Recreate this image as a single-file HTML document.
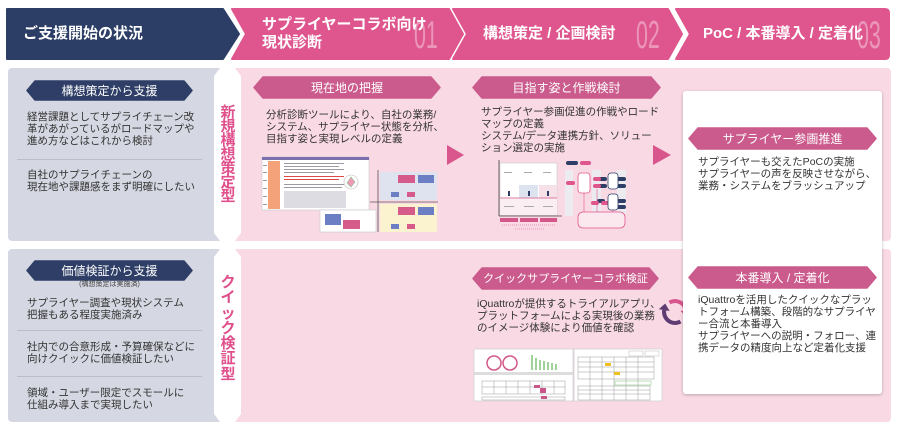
<!DOCTYPE html>
<html><head><meta charset="utf-8">
<style>
html,body{margin:0;padding:0;}
body{width:900px;height:428px;position:relative;overflow:hidden;background:#fff;font-family:"Liberation Sans","Noto Sans CJK JP",sans-serif;}
svg{position:absolute;left:0;top:0;}
.t{position:absolute;font-family:"Liberation Sans","Noto Sans CJK JP",sans-serif;font-size:10.5px;line-height:12.2px;color:#333;white-space:nowrap;}
.h{position:absolute;font-family:"Liberation Sans","Noto Sans CJK JP",sans-serif;font-size:15px;font-weight:bold;color:#fff;white-space:nowrap;line-height:18px;}
.p{position:absolute;font-family:"Liberation Sans","Noto Sans CJK JP",sans-serif;font-size:12px;color:#fff;white-space:nowrap;text-align:center;line-height:20px;}
.v{position:absolute;font-family:"Liberation Sans","Noto Sans CJK JP",sans-serif;font-size:15px;font-weight:bold;color:#e0508c;text-align:center;width:26px;}
.card{position:absolute;left:683px;top:91px;width:199px;height:303px;background:#fff;border-radius:3px;box-shadow:0 1px 3px rgba(0,0,0,0.25);}
</style></head><body>
<svg width="900" height="428" viewBox="0 0 900 428">
 <!-- header -->
 <g stroke-linejoin="round" stroke-width="2">
  <polygon points="7,9 223,9 239,34 223,59 7,59" fill="#2c3d66" stroke="#2c3d66"/>
  <polygon points="232,9 449,9 463,34 449,59 232,59 246,34" fill="#df568e" stroke="#df568e"/>
  <polygon points="453,9 668,9 682,34 668,59 453,59 467,34" fill="#df568e" stroke="#df568e"/>
  <path d="M676,9 L885,9 Q889,9 889,13 L889,55 Q889,59 885,59 L676,59 L690,34 Z" fill="#df568e" stroke="#df568e"/>
 </g>
 <g font-family="Liberation Sans, sans-serif" font-size="39" fill="#ffffff" fill-opacity="0.38">
  <text transform="translate(414,48) scale(0.55,1)">01</text>
  <text transform="translate(636,48) scale(0.55,1)">02</text>
  <text transform="translate(857,48) scale(0.55,1)">03</text>
 </g>
 <!-- rows -->
 <rect x="8" y="68" width="218" height="173" rx="4" fill="#d5d8e2"/>
 <rect x="8" y="249" width="218" height="173" rx="4" fill="#d5d8e2"/>
 <rect x="229" y="68" width="662" height="173" rx="4" fill="#f9d9e4"/>
 <rect x="229" y="249" width="662" height="173" rx="4" fill="#f9d9e4"/>
 <polygon points="220,68 235,68 241,76 241,233 235,241 220,241 214,233 214,76" fill="#fff"/>
 <polygon points="220,249 235,249 241,257 241,414 235,422 220,422 214,414 214,257" fill="#fff"/>
 <!-- dividers -->
 <rect x="17" y="159" width="185" height="1" fill="#b9bdc9"/>
 <rect x="17" y="330" width="185" height="1" fill="#b9bdc9"/>
 <rect x="17" y="376" width="185" height="1" fill="#b9bdc9"/>
 <!-- navy pills -->
 <polygon points="35,81 184,81 192,90.5 184,100 35,100 27,90.5" fill="#2e3e66" stroke="#2e3e66" stroke-linejoin="round" stroke-width="1.5"/>
 <polygon points="35,261 184,261 192,270.5 184,280 35,280 27,270.5" fill="#2e3e66" stroke="#2e3e66" stroke-linejoin="round" stroke-width="1.5"/>
 <!-- pink pills -->
 <g fill="#cb5b8c" stroke="#cb5b8c" stroke-linejoin="round" stroke-width="1.5">
  <polygon points="263,77 431,77 440,87.5 431,98 263,98 254,87.5"/>
  <polygon points="482,77 651,77 660,87.5 651,98 482,98 473,87.5"/>
  <polygon points="482,268 649,268 658,278.5 649,289 482,289 473,278.5"/>
 </g>
 <!-- arrows -->
 <polygon points="447,145 464,155 447,165" fill="#d9568c"/>
 <polygon points="653,145 671,155 653,165" fill="#d9568c"/>

 <!-- Thumb A -->
 <rect x="262" y="157" width="107" height="53" fill="#fff" stroke="#c8c8d0" stroke-width="0.6"/>
 <rect x="262" y="157" width="107" height="3" fill="#7b6fae"/>
 <rect x="268" y="161" width="12" height="48" fill="#f4a27a"/>
 <g fill="#9a9aa5">
  <rect x="284" y="163" width="60" height="1"/><rect x="284" y="166" width="55" height="1"/>
  <rect x="284" y="169" width="60" height="1"/><rect x="284" y="172" width="50" height="1"/>
  <rect x="284" y="184" width="60" height="1"/><rect x="284" y="187" width="58" height="1"/>
  <rect x="263" y="165" width="4" height="1"/><rect x="263" y="172" width="4" height="1"/><rect x="263" y="180" width="4" height="1"/><rect x="263" y="188" width="4" height="1"/><rect x="263" y="196" width="4" height="1"/><rect x="263" y="204" width="4" height="1"/>
 </g>
 <g fill="#e04848"><rect x="284" y="176" width="60" height="1"/><rect x="284" y="179" width="55" height="1"/></g>
 <rect x="284" y="191" width="62" height="17" fill="#dcdce2"/>
 <circle cx="351" cy="182" r="7" fill="none" stroke="#bbb" stroke-width="0.6"/>
 <polygon points="351,177 355,182 351,187 347,183" fill="#f19ab8" stroke="#7cc48a" stroke-width="0.6"/>
 <!-- Thumb B -->
 <rect x="380" y="172" width="57" height="28" fill="#dfe3f0"/>
 <rect x="398" y="175" width="17" height="8" fill="#d65b8b"/>
 <rect x="418" y="175" width="16" height="8" fill="#6d7fc4"/>
 <rect x="391" y="192" width="8" height="5" fill="#6d7fc4"/>
 <rect x="407" y="192" width="8" height="5" fill="#d65b8b"/>
 <rect x="380" y="204" width="57" height="28" fill="#fbf3d0"/>
 <rect x="398" y="207" width="17" height="8" fill="#d65b8b"/>
 <rect x="418" y="207" width="16" height="8" fill="#6d7fc4"/>
 <rect x="391" y="224" width="8" height="5" fill="#6d7fc4"/>
 <rect x="407" y="224" width="8" height="5" fill="#d65b8b"/>
 <rect x="320" y="210" width="56" height="22" fill="#fff" stroke="#c8c8d0" stroke-width="0.6"/>
 <rect x="325" y="214" width="16" height="11" fill="#6d7fc4"/>
 <rect x="343" y="220" width="17" height="9" fill="#d65b8b"/>
 <g stroke="#555" stroke-width="0.8"><line x1="378" y1="170" x2="378" y2="232"/><line x1="370" y1="202" x2="438" y2="202"/></g>
 <!-- Thumb C -->
 <rect x="500" y="163" width="57" height="52" fill="#fff" stroke="#c8c8d0" stroke-width="0.6"/>
 <rect x="519" y="185" width="19" height="13" fill="#dde4f0"/>
 <rect x="539" y="185" width="18" height="13" fill="#f6e1e8"/>
 <rect x="500" y="198" width="57" height="17" fill="#fbeef2"/>
 <line x1="500" y1="198" x2="557" y2="198" stroke="#d4578a" stroke-width="0.8"/>
 <g fill="#2e3e66"><rect x="508" y="191" width="2" height="5"/><rect x="528" y="191" width="2" height="5"/><rect x="547" y="191" width="2" height="5"/></g>
 <g fill="#aaa"><rect x="504" y="172" width="8" height="1"/><rect x="524" y="172" width="8" height="1"/><rect x="543" y="172" width="8" height="1"/><rect x="504" y="206" width="10" height="1"/><rect x="524" y="206" width="10" height="1"/><rect x="543" y="206" width="10" height="1"/></g>
 <line x1="499" y1="160" x2="499" y2="216" stroke="#444" stroke-width="0.8"/>
 <line x1="499" y1="216" x2="562" y2="216" stroke="#444" stroke-width="0.8"/>
 <g fill="#d4578a"><rect x="500" y="218" width="18" height="4"/><rect x="520" y="218" width="18" height="4"/><rect x="540" y="218" width="17" height="4"/></g>
 <g stroke="#d4578a" stroke-width="0.6" stroke-dasharray="1,1"><line x1="502" y1="225" x2="555" y2="225"/><line x1="515" y1="229" x2="545" y2="229"/></g>
 <!-- Thumb D -->
 <g fill="#ebebf0"><rect x="565" y="170" width="8" height="46"/><rect x="592" y="170" width="9" height="44"/><rect x="617" y="170" width="9" height="44"/></g>
 <g fill="#2e3e66"><rect x="566" y="161" width="12" height="4" rx="2"/><rect x="597" y="177" width="10" height="4" rx="2"/><rect x="597" y="184" width="10" height="4" rx="2"/><rect x="617" y="177" width="9" height="4" rx="2"/><rect x="617" y="184" width="9" height="4" rx="2"/><rect x="617" y="199" width="9" height="4" rx="2"/><rect x="617" y="205" width="9" height="4" rx="2"/><rect x="597" y="199" width="8" height="4" rx="2"/></g>
 <g fill="#e0558c"><rect x="580" y="161" width="11" height="4" rx="2"/><rect x="566" y="181" width="9" height="4" rx="2"/><rect x="593" y="177" width="8" height="4" rx="2"/><rect x="593" y="184" width="8" height="4" rx="2"/><rect x="591" y="201" width="8" height="4" rx="2"/><rect x="601" y="201" width="8" height="4" rx="2"/></g>
 <rect x="578" y="173" width="12" height="20" rx="3" fill="#fff" stroke="#e0558c" stroke-width="0.8"/>
 <rect x="608" y="173" width="10" height="16" rx="3" fill="#fff" stroke="#2e3e66" stroke-width="0.8"/>
 <rect x="608" y="194" width="10" height="16" rx="3" fill="#fff" stroke="#2e3e66" stroke-width="0.8"/>
 <rect x="578" y="212" width="47" height="16" rx="5" fill="#fbe8ef" stroke="#e0558c" stroke-width="0.8"/>
 <g stroke="#e0558c" stroke-width="0.6"><line x1="584" y1="193" x2="584" y2="212"/><line x1="597" y1="189" x2="597" y2="212"/><line x1="613" y1="210" x2="613" y2="212"/></g>
 <!-- Thumb E -->
 <rect x="474" y="349" width="99" height="52" fill="#fff" stroke="#c8c8d0" stroke-width="0.6"/>
 <circle cx="494" cy="363" r="7" fill="none" stroke="#d4578a" stroke-width="1.5"/>
 <circle cx="510" cy="363" r="7" fill="none" stroke="#d4578a" stroke-width="1.5"/>
 <g fill="#9fd39a"><rect x="531" y="355" width="2" height="15"/><rect x="535" y="358" width="2" height="12"/><rect x="539" y="360" width="2" height="10"/><rect x="543" y="361" width="2" height="9"/><rect x="547" y="362" width="2" height="8"/><rect x="551" y="363" width="2" height="7"/><rect x="555" y="364" width="2" height="6"/></g>
 <rect x="474" y="372" width="99" height="3" fill="#ddd"/>
 <g fill="none" stroke="#999" stroke-width="0.5">
  <rect x="482" y="381" width="83" height="13"/><line x1="482" y1="387" x2="565" y2="387"/>
  <rect x="482" y="397" width="83" height="3"/>
  <line x1="494" y1="381" x2="494" y2="394"/><line x1="506" y1="381" x2="506" y2="394"/><line x1="518" y1="381" x2="518" y2="394"/><line x1="530" y1="381" x2="530" y2="394"/><line x1="542" y1="381" x2="542" y2="394"/><line x1="554" y1="381" x2="554" y2="394"/>
 </g>
 <rect x="534" y="385" width="6" height="3" fill="#c9578a"/><rect x="540" y="388" width="6" height="5" fill="#c9578a"/><rect x="541" y="396" width="6" height="3" fill="#c9578a"/>
 <!-- Thumb F -->
 <rect x="574" y="349" width="88" height="52" fill="#fff" stroke="#c8c8d0" stroke-width="0.6"/>
 <rect x="629" y="351" width="14" height="5" fill="none" stroke="#bbb" stroke-width="0.5"/>
 <rect x="645" y="351" width="14" height="5" fill="none" stroke="#bbb" stroke-width="0.5"/>
 <g fill="none" stroke="#999" stroke-width="0.5">
  <rect x="578" y="357" width="76" height="22"/><line x1="578" y1="362" x2="654" y2="362"/><line x1="578" y1="367" x2="654" y2="367"/><line x1="578" y1="372" x2="654" y2="372"/>
  <rect x="578" y="386" width="72" height="14"/><line x1="578" y1="390" x2="650" y2="390"/><line x1="578" y1="394" x2="650" y2="394"/>
  <line x1="590" y1="357" x2="590" y2="400"/><line x1="602" y1="357" x2="602" y2="400"/><line x1="614" y1="357" x2="614" y2="400"/><line x1="626" y1="357" x2="626" y2="400"/><line x1="638" y1="357" x2="638" y2="400"/>
 </g>
 <rect x="605" y="363" width="6" height="3" fill="#f0c020"/><rect x="614" y="372" width="6" height="3" fill="#f0c020"/>
 <rect x="615" y="381" width="36" height="4" fill="none" stroke="#9fd39a" stroke-width="0.7"/>
 <!-- cycle icon -->
 <path d="M669.5,302.5 A11,11 0 0 1 685.8,310.1" fill="none" stroke="#d9568c" stroke-width="4"/>
 <polygon points="686.8,317 691.5,309 680.5,311" fill="#d9568c"/>
 <path d="M680.5,321.5 A11,11 0 0 1 664.2,310.1" fill="none" stroke="#5e3d73" stroke-width="4"/>
 <polygon points="665.2,303.5 658.8,309.3 669.6,311" fill="#5e3d73"/>
</svg>

<!-- header text -->
<div class="h" style="left:23px;top:25px;">ご支援開始の状況</div>
<div class="h" style="left:262px;top:16px;">サプライヤーコラボ向け<br>現状診断</div>
<div class="h" style="left:483px;top:25px;">構想策定 / 企画検討</div>
<div class="h" style="left:703px;top:25px;">PoC / 本番導入 / 定着化</div>

<!-- left panels -->
<div class="p" style="left:27px;top:81px;width:165px;">構想策定から支援</div>
<div class="t" style="left:27px;top:110.5px;">経営課題としてサプライチェーン改<br>革があがっているがロードマップや<br>進め方などはこれから検討</div>
<div class="t" style="left:27px;top:169px;">自社のサプライチェーンの<br>現在地や課題感をまず明確にしたい</div>

<div class="p" style="left:27px;top:261px;width:165px;">価値検証から支援</div>
<div class="t" style="left:27px;top:281px;width:165px;text-align:center;font-size:7px;line-height:8px;color:#444;">(構想策定は実施済)</div>
<div class="t" style="left:27px;top:296.5px;">サプライヤー調査や現状システム<br>把握もある程度実施済み</div>
<div class="t" style="left:27px;top:341px;">社内での合意形成・予算確保などに<br>向けクイックに価値検証したい</div>
<div class="t" style="left:27px;top:386.5px;">領域・ユーザー限定でスモールに<br>仕組み導入まで実現したい</div>

<!-- vertical labels -->
<div class="v" style="left:215px;top:106px;line-height:14px;">新<br>規<br>構<br>想<br>策<br>定<br>型</div>
<div class="v" style="left:215px;top:275px;line-height:15.3px;">ク<br>イ<br>ッ<br>ク<br>検<br>証<br>型</div>

<!-- pink row content -->
<div class="p" style="left:254px;top:77.5px;width:186px;">現在地の把握</div>
<div class="t" style="left:266px;top:109px;line-height:12px;">分析診断ツールにより、自社の業務/<br>システム、サプライヤー状態を分析、<br>目指す姿と実現レベルの定義</div>

<div class="p" style="left:473px;top:77.5px;width:187px;">目指す姿と作戦検討</div>
<div class="t" style="left:481px;top:106px;line-height:12px;">サプライヤー参画促進の作戦やロード<br>マップの定義<br>システム/データ連携方針、ソリュー<br>ション選定の実施</div>

<div class="p" style="left:473px;top:268.5px;width:185px;font-size:11px;">クイックサプライヤーコラボ検証</div>
<div class="t" style="left:477px;top:298px;line-height:12px;">iQuattroが提供するトライアルアプリ、<br>プラットフォームによる実現後の業務<br>のイメージ体験により価値を確認</div>

<!-- card -->
<div class="card"></div>
<svg width="900" height="428" viewBox="0 0 900 428" style="pointer-events:none">
 <g fill="#cb5b8c" stroke="#cb5b8c" stroke-linejoin="round" stroke-width="1.5">
  <polygon points="698,128 867,128 876,138.5 867,149 698,149 689,138.5"/>
  <polygon points="698,267 867,267 876,277.5 867,288 698,288 689,277.5"/>
 </g>
</svg>
<div class="p" style="left:689px;top:128.5px;width:187px;">サプライヤー参画推進</div>
<div class="t" style="left:698px;top:156px;line-height:12px;">サプライヤーも交えたPoCの実施<br>サプライヤーの声を反映させながら、<br>業務・システムをブラッシュアップ</div>
<div class="p" style="left:689px;top:267.5px;width:187px;">本番導入 / 定着化</div>
<div class="t" style="left:698px;top:294px;line-height:12px;">iQuattroを活用したクイックなプラッ<br>トフォーム構築、段階的なサプライヤ<br>ー合流と本番導入<br>サプライヤーへの説明・フォロー、連<br>携データの精度向上など定着化支援</div>
</body></html>
